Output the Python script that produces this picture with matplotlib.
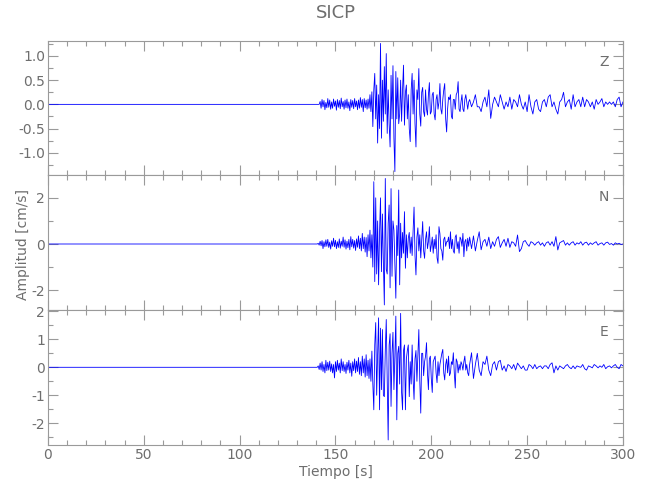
import numpy as np
import matplotlib
matplotlib.use('Agg')
import matplotlib.pyplot as plt
from matplotlib.ticker import MultipleLocator, FormatStrFormatter

# --- data (cm/s), 0.5 s steps from 140 s, then 1 s steps from 220 s ---
z_early = [0, 0, 0, 0,
           0.06, -0.08, 0.10, -0.05, 0.08, -0.11, 0.04, -0.07, 0.12, -0.06,
           0.09, -0.10, 0.05, -0.08, 0.11, -0.04, 0.07, -0.12, 0.10, -0.06,
           0.08, -0.09, 0.13, -0.05, 0.06, -0.10, 0.09, -0.07, 0.11, -0.08,
           0.05, -0.13, 0.10, -0.06, 0.08, -0.09, 0.12, -0.05, 0.07, -0.11,
           0.09, -0.08, 0.14, -0.06, 0.10, -0.15, 0.12, -0.07, 0.09, -0.10,
           0.11, -0.08,
           0.2, -0.15, 0.26, -0.46,
           0.3, 0.64, -0.3, 0.4, -0.8, 0.2, -0.5, 1.26, -0.7, 0.5, -0.35, 0.78,
           -0.2, 1.05, -0.6, 0.3, -0.4, -0.88, 0.6, -0.3, 0.8, -0.7, -1.39, 0.68,
           -0.3, 0.55, -0.4, -0.2, 0.5, -0.35, 0.3, 0.81, -0.43, 0.25, 0.4, -0.3,
           0.2, -0.5, -0.77, 0.3, 0.64, -0.2, 0.5, -0.4, -0.88, 0.3, 0.1, 0.74,
           -0.2, -0.45, 0.25, 0.35, -0.15, -0.25, 0.3, -0.1, -0.22, 0.2, 0.45, -0.2,
           -0.15, 0.2, 0.25, -0.2, -0.32, 0.1, 0.2, -0.1, 0.05, 0.43, -0.1, -0.2,
           0.1, 0.3, 0.43, -0.3, -0.57, -0.1, 0.15, 0.1, 0.2, -0.25, -0.3, 0.1,
           0.1, -0.1, 0.2, 0.25, 0.47, -0.1, -0.15, 0.05, 0.2, -0.1, -0.15, 0.1,
           0.2, 0.05, -0.1, 0.05]
z_coda = [0.1, -0.05, 0.05, 0.2, -0.05, -0.05, -0.15, 0.05, 0.15, -0.05,
          0.3, -0.29, 0.0, 0.15, 0.05, -0.05, 0.2, 0.05, -0.1, 0.05,
          -0.05, 0.15, -0.1, 0.1, 0.05, -0.05, 0.2, 0.0, -0.1, 0.05,
          -0.15, 0.2, -0.05, -0.2, 0.05, 0.1, -0.1, -0.15, 0.05, 0.1,
          -0.05, 0.15, 0.2, -0.05, 0.05, -0.1, -0.2, 0.05, 0.1, 0.25,
          -0.05, 0.05, 0.1, -0.1, 0.2, -0.05, 0.05, 0.1, -0.05, 0.15,
          -0.05, 0.1, 0.05, -0.05, 0.05, -0.1, 0.1, 0.0, 0.05, 0.12,
          -0.05, 0.05, 0.0, 0.05, 0.0, 0.05, -0.05, 0.1, 0.15, -0.05, 0.05]

n_early = [0, 0, 0.03, -0.05,
           0.12, -0.08, 0.15, -0.2, 0.1, -0.12, 0.18, -0.1, 0.2, -0.15,
           0.08, -0.22, 0.14, -0.1, 0.25, -0.12, 0.16, -0.2, 0.1, -0.15,
           0.22, -0.18, 0.12, -0.1, 0.3, -0.14, 0.18, -0.22, 0.12, -0.16,
           0.2, -0.25, 0.32, -0.12, 0.2, -0.18, 0.15, -0.28, 0.22, -0.14,
           0.35, -0.2, 0.25, -0.3, 0.46, -0.2, 0.3, -0.35, 0.28, -0.55,
           0.4, -0.3,
           0.6, -0.6, 0.4, -1.0,
           2.7, -1.63, 2.0, -1.3, 1.0, -1.77, 0.5, 2.0, -1.2, 1.3, -0.8, -2.64,
           2.84, -1.1, -1.3, 0.9, 1.69, -1.9, 2.4, -1.4, 1.0, 0.6, -0.9, -2.35,
           0.8, -0.5, 2.34, -1.77, 0.9, -0.6, 0.5, -0.4, 1.4, -1.05, 0.4, -0.6,
           0.25, 0.5, -0.4, 0.3, -0.5, 0.6, 1.6, -0.5, -1.34, 0.3, 0.7, -0.3,
           0.4, -0.6, 0.2, 0.97, -0.3, -0.62, 0.2, 0.53, -0.2, 0.1, 0.75, -0.33,
           -0.05, 0.3, -0.4, 0.2, -0.2, 0.4, -0.6, -0.84, 0.75, 0.45, -0.2, -0.3,
           -0.7, 0.2, 0.3, -0.1, 0.1, 0.1, 0.3, -0.2, 0.53, -0.2, 0.2, -0.3,
           -0.4, 0.3, 0.4, -0.2, 0.1, -0.4, 0.3, 0.2, -0.1, 0.46, -0.55, 0.1,
           0.2, -0.3, 0.25, -0.1]
n_coda = [0.3, -0.2, 0.35, -0.3, 0.15, 0.53, -0.25, 0.1, 0.2, -0.1,
          0.3, -0.2, 0.1, -0.1, 0.2, 0.32, -0.15, 0.05, 0.2, -0.1,
          0.25, -0.15, 0.1, 0.05, -0.1, 0.39, -0.33, -0.2, 0.1, 0.15,
          0.0, -0.1, 0.1, 0.05, -0.05, 0.05, 0.1, -0.05, 0.05, -0.1,
          0.05, 0.1, -0.05, 0.1, -0.1, 0.32, -0.26, 0.05, 0.1, 0.15,
          -0.05, 0.05, -0.05, 0.05, 0.1, -0.05, 0.05, 0.0, 0.1, -0.05,
          0.05, 0.08, -0.05, 0.05, -0.02, 0.05, 0.1, -0.05, 0.02, 0.05,
          -0.05, 0.05, 0.08, -0.02, 0.02, -0.05, 0.05, 0.0, 0.03, -0.02, 0.0]

e_early = [0, 0, 0.05, -0.08,
           0.15, -0.1, 0.2, -0.15, 0.1, -0.2, 0.25, -0.12, 0.18, -0.1,
           0.22, -0.15, 0.12, -0.2, 0.1, -0.38, 0.2, -0.15, 0.25, -0.1,
           0.15, -0.2, 0.3, -0.12, 0.2, -0.15, 0.1, -0.22, 0.18, -0.1,
           0.25, -0.2, 0.15, -0.32, 0.2, -0.12, 0.3, -0.2, 0.22, -0.15,
           0.35, -0.25, 0.2, -0.3, 0.4, -0.2, 0.3, -0.35, 0.45, -0.3,
           0.25, -0.4,
           0.3, -0.5, 0.58, -0.6,
           -1.52, 0.8, 1.6, -1.0, 0.5, 1.77, -1.52, 1.4, -0.8, 1.35, -1.0, -1.05,
           0.6, 1.71, -0.5, -2.6, 0.8, 1.2, -1.4, 0.5, 1.25, -0.8, 0.4, 1.83,
           -1.88, 0.5, 0.75, -0.6, 1.93, -0.9, -1.52, 0.6, 0.8, -1.52, 0.3, 0.6,
           0.8, -1.05, 0.2, -0.6, 0.8, -0.4, -1.15, 0.3, 0.6, -0.5, 0.4, 1.35,
           -0.5, -1.64, 0.5, 0.5, -0.3, 0.2, 0.4, 0.88, -0.2, -0.8, 0.3, 0.4,
           -0.4, -0.9, 0.2, 0.3, 0.4, -0.2, -0.55, 0.2, -0.3, 0.1, 0.3, 0.5,
           0.64, -0.2, -0.45, 0.1, 0.3, -0.2, 0.4, -0.3, -0.2, 0.2, 0.1, 0.52,
           -0.2, -0.74, 0.3, 0.2, -0.2, 0.1, -0.1, 0.2, 0.1, -0.1, 0.2, 0.4,
           -0.1, 0.1, -0.2, -0.3]
e_coda = [0.1, 0.52, -0.4, 0.1, 0.5, -0.1, -0.3, 0.2, 0.1, 0.4,
          -0.1, -0.3, 0.1, 0.2, -0.1, 0.2, 0.25, -0.1, 0.05, -0.15,
          0.1, 0.05, -0.05, 0.1, -0.1, 0.15, 0.05, -0.05, 0.05, -0.1,
          -0.1, 0.1, 0.05, -0.05, 0.1, -0.05, 0.02, 0.05, -0.05, 0.05,
          0.05, -0.05, 0.1, 0.16, -0.2, 0.05, -0.1, 0.05, 0.0, -0.05,
          0.05, 0.1, 0.0, -0.05, 0.05, -0.05, 0.05, 0.02, 0.0, 0.1,
          -0.05, -0.1, 0.05, 0.02, -0.02, 0.1, 0.05, -0.02, 0.05, 0.0,
          0.1, -0.05, 0.02, 0.05, -0.02, 0.05, 0.1, 0.0, -0.05, 0.1, 0.05]

components = ['Z', 'N', 'E']
traces = [(z_early, z_coda), (n_early, n_coda), (e_early, e_coda)]
ylims = [(-1.46, 1.31), (-2.86, 2.99), (-2.78, 2.05)]
ysteps = [(0.5, 0.25), (2, 1), (1, 0.5)]
yfmt = ['%.1f', '%d', '%d']

grey = '#9a9a9a'
txt = '#6e6e6e'
plt.rcParams['font.family'] = ['DejaVu Sans']
plt.rcParams['font.size'] = 10

fig = plt.figure(figsize=(6.5, 5), dpi=100)
bottoms = [0.65, 0.38, 0.11]
heights = [0.268, 0.27, 0.27]

for i, comp in enumerate(components):
    ax = fig.add_axes([0.0738, bottoms[i], 0.8846, heights[i]])
    early, coda = traces[i]
    t_early = 140 + 0.5 * np.arange(len(early))
    t_coda = 220 + 1.0 * np.arange(len(coda))
    t = np.concatenate([[0.0], t_early, t_coda])
    y = np.concatenate([[0.0], early, coda])
    ax.plot(t, y, color='#0000ff', lw=0.6)
    ax.set_xlim(0, 300)
    ax.set_ylim(*ylims[i])
    ax.xaxis.set_major_locator(MultipleLocator(50))
    ax.xaxis.set_minor_locator(MultipleLocator(10))
    ax.yaxis.set_major_locator(MultipleLocator(ysteps[i][0]))
    ax.yaxis.set_minor_locator(MultipleLocator(ysteps[i][1]))
    ax.yaxis.set_major_formatter(FormatStrFormatter(yfmt[i]))
    ax.tick_params(which='both', direction='in', top=True, right=True,
                   color=grey, labelcolor=txt, width=0.8, pad=2)
    ax.tick_params(which='major', length=7)
    ax.tick_params(which='minor', length=3.5)
    for s in ax.spines.values():
        s.set_color(grey)
        s.set_linewidth(0.8)
    if i < 2:
        ax.set_xticklabels([])
    else:
        ax.set_xlabel('Tiempo [s]', color=txt, labelpad=2)
    ax.text(0.975, 0.84, comp, transform=ax.transAxes, ha='right', va='center',
            color=txt)

fig.text(0.516, 0.975, 'SICP', ha='center', va='center', color=txt, fontsize=13)
fig.text(0.036, 0.512, 'Amplitud [cm/s]', rotation=90, ha='center', va='center',
         color=txt)

fig.savefig('out.png', dpi=100)
